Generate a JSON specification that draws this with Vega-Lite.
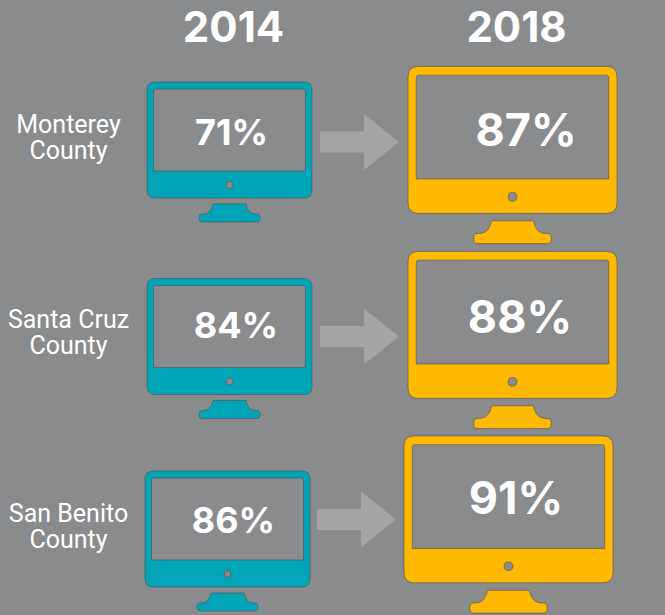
{"$schema":"https://vega.github.io/schema/vega-lite/v6.json","width":665,"height":615,"padding":0,"autosize":{"type":"none"},"background":"#8A8B8D","view":{"stroke":null},
"data":{"values":[
{"county":"Monterey County","year":2014,"pct":71},
{"county":"Santa Cruz County","year":2014,"pct":84},
{"county":"San Benito County","year":2014,"pct":86},
{"county":"Monterey County","year":2018,"pct":87},
{"county":"Santa Cruz County","year":2018,"pct":88},
{"county":"San Benito County","year":2018,"pct":91}]},
"encoding":{
"x":{"field":"year","type":"quantitative","scale":{"domain":[2014,2018],"range":[229.5,512.5],"nice":false,"zero":false},"axis":{"orient":"top","values":[2014,2018],"format":"d","title":null,"domain":false,"ticks":false,"grid":false,"labelFont":"Inter","labelFontWeight":"bold","labelFontSize":42,"labelColor":"#FFFFFF","labelPadding":0,"labelBaseline":"middle","labelOffset":3.5,"offset":-28,"labelOverlap":false,"labelFlush":false}},
"y":{"field":"county","type":"nominal","scale":{"type":"point","padding":0,"domain":["Monterey County","Santa Cruz County","San Benito County"],"range":[152,541]},"axis":{"orient":"left","title":null,"domain":false,"ticks":false,"grid":false,"labelFont":"Roboto","labelFontSize":25,"labelColor":"#FFFFFF","labelAlign":"center","labelPadding":0,"labelOffset":-27.5,"offset":-68,"labelLineHeight":26,"labelExpr":"[replace(datum.label,' County',''),'County']","labelOverlap":false}}
},
"layer":[
{"transform":[{"filter":"datum.year===2014"}],
"mark":{"type":"point","filled":true,"opacity":1,"fill":"#A5A5A5","stroke":null,"size":6241,"shape":"M -1 -.266 L .114 -.266 L .114 -.71 L 1 0 L .114 .71 L .114 .266 L -1 .266 Z",
"xOffset":{"expr":"datum.county==='San Benito County'?127:130"},
"yOffset":{"expr":"{'Monterey County':-10,'Santa Cruz County':-10,'San Benito County':-21.5}[datum.county]"}}},
{"mark":{"type":"point","filled":true,"opacity":1,"stroke":"#4A4A4A","strokeOpacity":0.55,"strokeWidth":1,
"shape":"M -1 -.748 Q -1 -.848 -.9 -.848 L .9 -.848 Q 1 -.848 1 -.748 L 1 .458 Q 1 .558 .9 .558 L -.9 .558 Q -1 .558 -1 .458 Z M -.921 -.74 L -.921 .23 L .921 .23 L .921 -.74 Q .921 -.764 .897 -.764 L -.897 -.764 Q -.921 -.764 -.921 -.74 Z M 0 .358 Q -.042 .358 -.042 .4 Q -.042 .442 0 .442 Q .042 .442 .042 .4 Q .042 .358 0 .358 Z M -.2 .63 L .2 .63 Q .22 .74 .3 .75 L .33 .75 Q .37 .75 .37 .79 L .37 .81 Q .37 .848 .33 .848 L -.33 .848 Q -.37 .848 -.37 .81 L -.37 .79 Q -.37 .75 -.33 .75 L -.3 .75 Q -.22 .74 -.2 .63 Z",
"xOffset":{"expr":"datum.county==='San Benito County'?(datum.year===2014?-2:-4):0"},
"yOffset":{"expr":"{'Monterey County|2014':0,'Santa Cruz County|2014':2,'San Benito County|2014':0,'Monterey County|2018':3,'Santa Cruz County|2018':-6.5,'San Benito County|2018':-16.5}[datum.county+'|'+datum.year]"}},
"encoding":{
"color":{"field":"year","type":"nominal","scale":{"domain":[2014,2018],"range":["#00A5B8","#FFB900"]},"legend":null},
"size":{"field":"year","type":"ordinal","scale":{"domain":[2014,2018],"range":[27225,43681]},"legend":null}}},
{"transform":[{"calculate":"datum.pct+'%'","as":"label"}],
"mark":{"type":"text","font":"Inter","fontWeight":"bold","color":"#FFFFFF","align":"center","baseline":"middle",
"fontSize":{"expr":"datum.year===2014?36:45"},
"xOffset":{"expr":"{'Monterey County|2014':2,'Santa Cruz County|2014':6.5,'San Benito County|2014':4,'Monterey County|2018':13.5,'Santa Cruz County|2018':7.5,'San Benito County|2018':3.5}[datum.county+'|'+datum.year]"},
"yOffset":{"expr":"{'Monterey County|2014':-18,'Santa Cruz County|2014':-19.5,'San Benito County|2014':-19,'Monterey County|2018':-20,'Santa Cruz County|2018':-27.5,'San Benito County|2018':-41}[datum.county+'|'+datum.year]"}},
"encoding":{
"text":{"field":"label","type":"nominal"}}}
]}
